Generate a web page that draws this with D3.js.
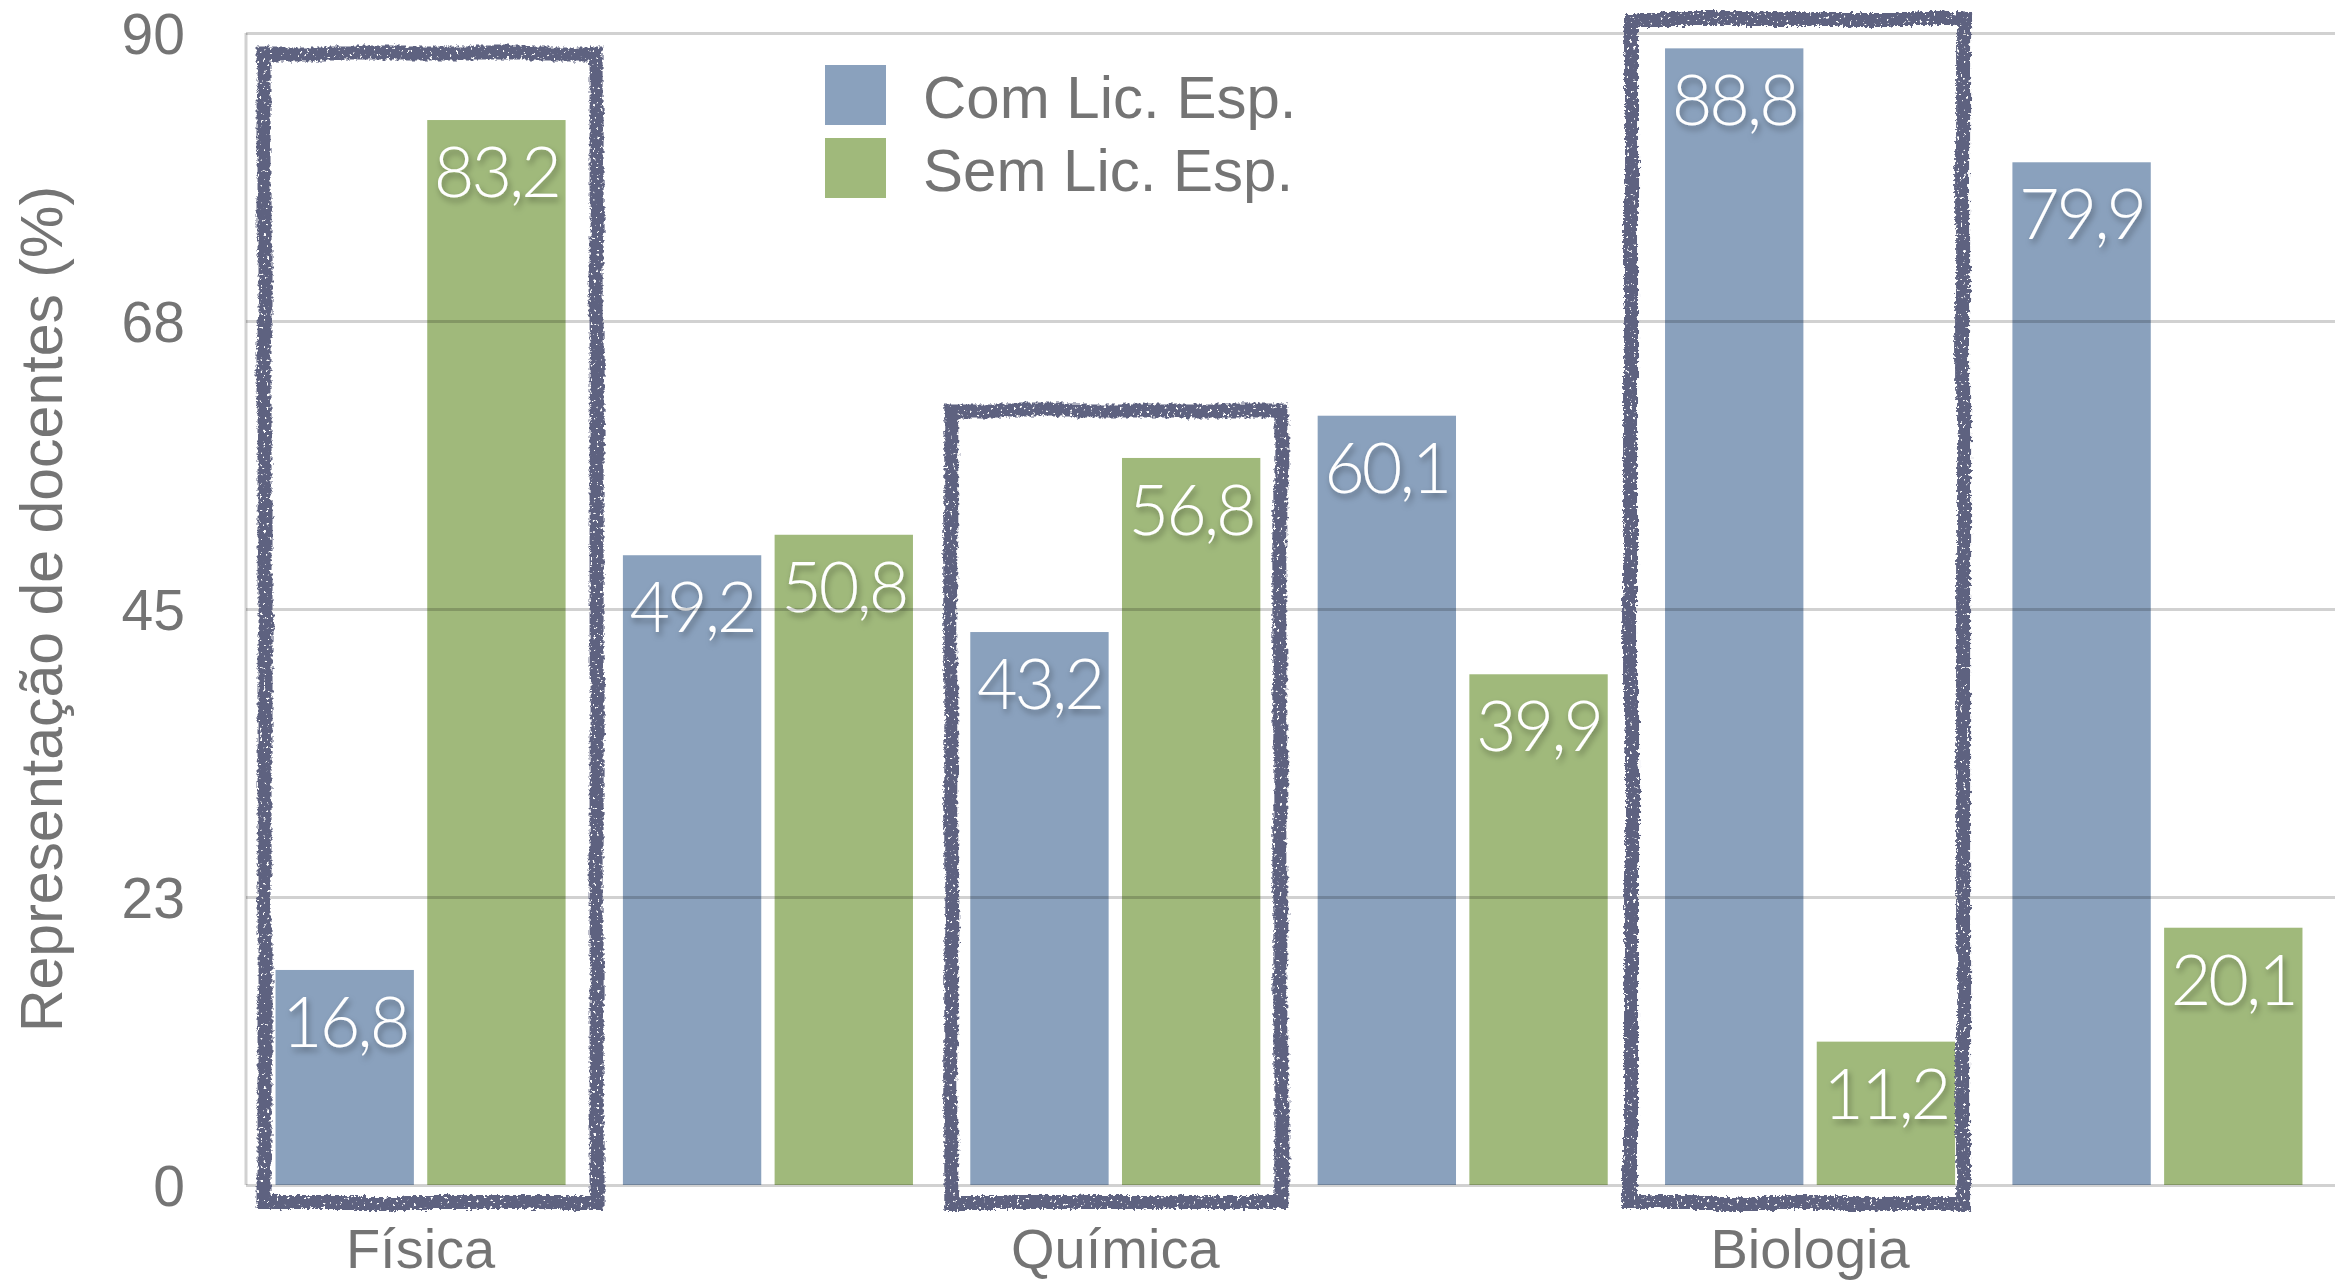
<!DOCTYPE html>
<html>
<head>
<meta charset="utf-8">
<script src="https://cdn.jsdelivr.net/npm/d3@7"></script>
<style>
  html, body { margin: 0; padding: 0; background: #fff; }
  svg { display: block; }
</style>
</head>
<body>
<svg id="chart"></svg>
<script>
// Chart data
const categories = ["g1", "g2", "g3", "g4", "g5", "g6"];
const categoryLabels = ["Física", "", "Química", "", "Biologia", ""];
const seriesNames = ["Com Lic. Esp.", "Sem Lic. Esp."];
const comLicEsp = [16.8, 49.2, 43.2, 60.1, 88.8, 79.9];
const semLicEsp = [83.2, 50.8, 56.8, 39.9, 11.2, 20.1];
const yTickValues = [0, 22.5, 45, 67.5, 90];
const yTickLabels = ["0", "23", "45", "68", "90"];
const yTitle = "Representação de docentes (%)";

// Highlighted groups and the top of each hand-drawn box (in % units)
const boxGroups = ["g1", "g3", "g5"];
const boxTops = [88.4, 60.5, 91.1];

// Layout
const W = 2335, H = 1284;
const plot = { left: 246, right: 2332, top: 33, bottom: 1185 };
const colors = ["#8aa1bd", "#a0b97b"];
const textGray = "#747474";
const fontSans = "'Liberation Sans', Arial, Helvetica, sans-serif";

const svg = d3.select("#chart").attr("width", W).attr("height", H);

// Filters: chalk-like outline and label drop shadow
const defs = svg.append("defs");
defs.append("filter")
  .attr("id", "shadow").attr("x", "-20%").attr("y", "-20%")
  .attr("width", "140%").attr("height", "160%")
  .append("feDropShadow")
    .attr("dx", 2).attr("dy", 4).attr("stdDeviation", 3)
    .attr("flood-color", "#000").attr("flood-opacity", 0.35);

const chalk = defs.append("filter")
  .attr("id", "chalk").attr("x", "-10%").attr("y", "-5%")
  .attr("width", "120%").attr("height", "110%")
  .attr("color-interpolation-filters", "sRGB");
chalk.append("feTurbulence")
  .attr("type", "fractalNoise").attr("baseFrequency", 0.012)
  .attr("numOctaves", 1).attr("seed", 4).attr("result", "wob");
chalk.append("feDisplacementMap")
  .attr("in", "SourceGraphic").attr("in2", "wob").attr("scale", 7)
  .attr("xChannelSelector", "R").attr("yChannelSelector", "G").attr("result", "w");
chalk.append("feTurbulence")
  .attr("type", "fractalNoise").attr("baseFrequency", 0.3)
  .attr("numOctaves", 2).attr("seed", 9).attr("result", "grain");
chalk.append("feDisplacementMap")
  .attr("in", "w").attr("in2", "grain").attr("scale", 6)
  .attr("xChannelSelector", "R").attr("yChannelSelector", "G").attr("result", "rough");
chalk.append("feColorMatrix")
  .attr("in", "grain").attr("type", "matrix")
  .attr("values", "0 0 0 0 0  0 0 0 0 0  0 0 0 0 0  -14 0 0 0 10.4")
  .attr("result", "holes");
chalk.append("feComposite")
  .attr("in", "rough").attr("in2", "holes").attr("operator", "in");

// Scales
const x0 = d3.scaleBand()
  .domain(categories)
  .range([plot.left, plot.right])
  .paddingInner(0.165)
  .paddingOuter(0.085);

const x1 = d3.scaleBand()
  .domain(seriesNames)
  .range([0, x0.bandwidth()])
  .paddingInner(0.088)
  .paddingOuter(0);

const y = d3.scaleLinear()
  .domain([0, 90])
  .range([plot.bottom, plot.top]);

const color = d3.scaleOrdinal().domain(seriesNames).range(colors);

const rows = categories.map((c, i) => ({
  cat: c,
  values: [
    { key: seriesNames[0], value: comLicEsp[i] },
    { key: seriesNames[1], value: semLicEsp[i] }
  ]
}));

const fmt = v => d3.format(".1f")(v).replace(".", ",");

// Bars
const groups = svg.append("g").attr("class", "bars")
  .selectAll("g")
  .data(rows)
  .join("g")
    .attr("transform", d => `translate(${x0(d.cat)},0)`);

groups.selectAll("rect")
  .data(d => d.values)
  .join("rect")
    .attr("x", d => x1(d.key))
    .attr("y", d => y(d.value))
    .attr("width", x1.bandwidth())
    .attr("height", d => y(0) - y(d.value))
    .attr("fill", d => color(d.key));

// Gridlines (drawn over the bars, translucent)
svg.append("g")
  .attr("class", "grid")
  .attr("transform", `translate(${plot.left},0)`)
  .call(d3.axisLeft(y).tickValues(yTickValues).tickSize(-(W - plot.left)).tickFormat(""))
  .call(g => g.select(".domain").remove())
  .call(g => g.selectAll("line")
    .attr("stroke", "#000").attr("stroke-opacity", 0.18).attr("stroke-width", 3));

// Left axis line
svg.append("line")
  .attr("x1", plot.left).attr("x2", plot.left)
  .attr("y1", y(90)).attr("y2", y(0))
  .attr("stroke", "#000").attr("stroke-opacity", 0.18).attr("stroke-width", 3);

// Y tick labels
svg.append("g")
  .attr("transform", `translate(${plot.left},0)`)
  .call(d3.axisLeft(y).tickValues(yTickValues)
    .tickFormat((d, i) => yTickLabels[i]).tickSize(0).tickPadding(61))
  .call(g => g.select(".domain").remove())
  .call(g => g.selectAll("text")
    .attr("fill", textGray)
    .attr("font-family", fontSans)
    .attr("font-size", 57)
    .attr("dy", "0.36em"));

// Y title
svg.append("text")
  .attr("transform", `translate(62,${(y(0) + y(90)) / 2}) rotate(-90)`)
  .attr("text-anchor", "middle")
  .attr("fill", textGray)
  .attr("font-family", fontSans)
  .attr("font-size", 59)
  .text(yTitle);

// X labels
svg.append("g")
  .attr("transform", `translate(0,${plot.bottom})`)
  .call(d3.axisBottom(x0).tickFormat((d, i) => categoryLabels[i]).tickSize(0))
  .call(g => g.select(".domain").remove())
  .call(g => g.selectAll("text")
    .attr("y", 83).attr("dy", null)
    .attr("fill", textGray)
    .attr("font-family", fontSans)
    .attr("font-size", 56));

// Value labels
groups.selectAll("text.val")
  .data(d => d.values)
  .join("text")
    .attr("class", "val")
    .attr("x", d => x1(d.key) + x1.bandwidth() / 2)
    .attr("y", d => y(d.value) + 77)
    .attr("text-anchor", "middle")
    .attr("fill", "#fff")
    .attr("font-family", "Lato, 'Open Sans', sans-serif")
    .attr("font-weight", 300)
    .attr("font-size", 70)
    .attr("letter-spacing", -3)
    .attr("filter", "url(#shadow)")
    .text(d => fmt(d.value));

// Hand-drawn highlight boxes
const boxPad = [[11, 31], [19, 20], [34, 8]];
const boxBottom = -1.4;
svg.append("g").attr("class", "boxes")
  .selectAll("path")
  .data(boxGroups.map((g, i) => ({ g, top: boxTops[i], pad: boxPad[i] })))
  .join("path")
    .attr("d", d => {
      const p = d3.path();
      const xa = x0(d.g) - d.pad[0], xb = x0(d.g) + x0.bandwidth() + d.pad[1];
      const ya = y(d.top), yb = y(boxBottom);
      p.moveTo(xa, ya);
      p.lineTo(xb, ya);
      p.lineTo(xb, yb);
      p.lineTo(xa, yb);
      p.closePath();
      return p.toString();
    })
    .attr("fill", "none")
    .attr("stroke", "#5e6280")
    .attr("stroke-width", 14)
    .attr("stroke-linejoin", "miter")
    .attr("filter", "url(#chalk)");

// Legend
const legend = svg.append("g").attr("transform", "translate(825,65)");
const items = legend.selectAll("g")
  .data(seriesNames)
  .join("g")
    .attr("transform", (d, i) => `translate(0,${i * 73})`);
items.append("rect")
  .attr("width", 61).attr("height", 60)
  .attr("fill", d => color(d));
items.append("text")
  .attr("x", 98).attr("y", 53)
  .attr("fill", textGray)
  .attr("font-family", fontSans)
  .attr("font-size", 60)
  .text(d => d);
</script>
</body>
</html>
